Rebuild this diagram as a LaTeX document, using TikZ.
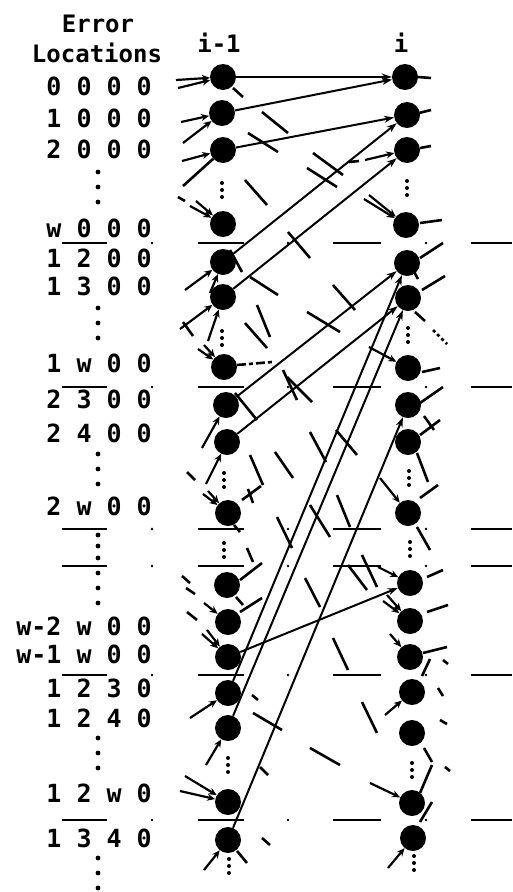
\documentclass[tikz,border=0pt]{standalone}
\usepackage{fontspec}
\setmonofont{DejaVu Sans Mono}
\usetikzlibrary{arrows.meta}
\newcommand\seprow[1]{%
  \draw[sep] (62,#1) -- (107,#1);
  \fill (152,#1) circle (1.3);
  \draw[sep] (198,#1) -- (244,#1);
  \fill (288,#1) circle (1.3);
  \draw[sep] (333,#1) -- (381,#1);
  \fill (426,#1) circle (1.3);
  \draw[sep] (471,#1) -- (512,#1);}
\newcommand\coldots[2]{%
  \fill (#1,#2) circle (2);
  \fill (#1,#2+7) circle (2);
  \fill (#1,#2+14) circle (2);}
\newcommand\labdots[2]{%
  \fill (#1,#2) circle (2.4);
  \fill (#1,#2+15) circle (2.4);
  \fill (#1,#2+30) circle (2.4);}
\begin{document}
\begin{tikzpicture}[x=1pt,y=-1pt,
  st/.style={circle,fill=black,inner sep=0pt,minimum size=26pt},
  lab/.style={font=\ttfamily\bfseries\fontsize{25}{25}\selectfont,anchor=base east,inner sep=0pt},
  hd/.style={font=\ttfamily\bfseries\fontsize{24}{24}\selectfont,anchor=base,inner sep=0pt},
  tr/.style={line width=2pt,-{Stealth[length=10pt,width=7pt]}},
  stub/.style={line width=2.2pt,-{Stealth[length=8pt,width=7pt]}},
  frag/.style={line width=2.6pt},
  sep/.style={line width=1.8pt}
]
\useasboundingbox (0,0) rectangle (512,892);
% headers
\node[hd] (h1) at (98,32) {Error};
\node[hd] (h2) at (97,62) {Locations};
\node[hd] (h3) at (219,52) {i-1};
\node[hd] (h4) at (401,52) {i};
% labels
\node[lab] (t1) at (152,95) {0 0 0 0};
\node[lab] (t2) at (152,127) {1 0 0 0};
\node[lab] (t3) at (152,158) {2 0 0 0};
\node[lab] (t4) at (152,237) {w 0 0 0};
\node[lab] (t5) at (152,267) {1 2 0 0};
\node[lab] (t6) at (152,295) {1 3 0 0};
\node[lab] (t7) at (152,372) {1 w 0 0};
\node[lab] (t8) at (152,408) {2 3 0 0};
\node[lab] (t9) at (152,442) {2 4 0 0};
\node[lab] (t10) at (152,515) {2 w 0 0};
\node[lab] (t11) at (152,635) {w-2 w 0 0};
\node[lab] (t12) at (152,663) {w-1 w 0 0};
\node[lab] (t13) at (152,697) {1 2 3 0};
\node[lab] (t14) at (152,727) {1 2 4 0};
\node[lab] (t15) at (152,802) {1 2 w 0};
\node[lab] (t16) at (152,847) {1 3 4 0};
% label dots
\labdots{98}{172}
\labdots{98}{308}
\labdots{98}{454}
\fill (98,535) circle (2.4); \fill (98,546) circle (2.4); \fill (98,558) circle (2.4);
\labdots{98}{573}
\labdots{98}{738}
\labdots{98}{858}
% separators
\seprow{243}
\seprow{387}
\seprow{529}
\seprow{566}
\seprow{675}
\seprow{820}
% left nodes
\node[st] (L0) at (223,77) {};
\node[st] (L1) at (222,113) {};
\node[st] (L2) at (223,150) {};
\node[st] (Lw) at (223,224) {};
\node[st] (L12) at (223,262) {};
\node[st] (L13) at (223,297) {};
\node[st] (L1w) at (224,367) {};
\node[st] (L23) at (226,405) {};
\node[st] (L24) at (227,442) {};
\node[st] (L2w) at (228,513) {};
\node[st] (Lx) at (227,585) {};
\node[st] (Lw2) at (228,622) {};
\node[st] (Lw1) at (228,657) {};
\node[st] (L123) at (228,693) {};
\node[st] (L124) at (228,728) {};
\node[st] (L12w) at (228,802) {};
\node[st] (L134) at (228,840) {};
% right nodes
\node[st] (R0) at (405,77) {};
\node[st] (R1) at (407,115) {};
\node[st] (R2) at (407,150) {};
\node[st] (Rw) at (406,225) {};
\node[st] (R12) at (407,263) {};
\node[st] (R13) at (408,298) {};
\node[st] (R1w) at (408,368) {};
\node[st] (R23) at (408,405) {};
\node[st] (R24) at (408,442) {};
\node[st] (R2w) at (408,513) {};
\node[st] (Rx) at (410,583) {};
\node[st] (Rw2) at (410,621) {};
\node[st] (Rw1) at (410,657) {};
\node[st] (R123) at (412,692) {};
\node[st] (R124) at (412,733) {};
\node[st] (R12w) at (412,803) {};
\node[st] (R134) at (413,838) {};
% column dots
\coldots{222}{183} \coldots{407}{181}
\coldots{222}{331} \coldots{408}{328}
\coldots{224}{473} \coldots{409}{471}
\coldots{224}{543} \coldots{410}{542}
\coldots{228}{758} \coldots{412}{763}
\coldots{229}{859} \coldots{414}{856}
% main transitions
\draw[tr] (L0) -- (R0);
\draw[tr] (L1) -- (R0);
\draw[tr] (L2) -- (R1);
\draw[tr] (L12) -- (R1);
\draw[tr] (L13) -- (R2);
\draw[tr] (L23) -- (R12);
\draw[tr] (L24) -- (R13);
\draw[tr] (L123) -- (R12);
\draw[tr] (L124) -- (R13);
\draw[tr] (L134) -- (R23);
\draw[tr] (Lw1) -- (Rx);
% left incoming stubs
\draw[stub] (176,80) -- (L0);
\draw[stub] (178,88) -- (L0);
\draw[stub] (181,122) -- (L1);
\draw[stub] (183,143) -- (L1);
\draw[stub] (182,161) -- (L2);
\draw[frag] (183,186) -- (L2);
\draw[frag] (178,197) -- (185,201);
\draw[stub] (190,206) -- (Lw);
\draw[stub] (196,201) -- (Lw);
\draw[stub] (185,290) -- (L12);
\draw[stub] (210,293) -- (L12);
\draw[frag] (230,250) -- (242,272);
\draw[stub] (180,329) -- (L13);
\draw[stub] (208,341) -- (L13);
\draw[frag] (183,322) -- (193,336);
\draw[stub] (198,349) -- (L1w);
\draw[stub] (204,345) -- (L1w);
\draw[frag,dash pattern=on 9pt off 3pt on 4pt off 3pt] (237,365) -- (272,362);
\draw[frag] (235,393) -- (257,420);
\draw[stub] (202,448) -- (L23);
\draw[stub] (206,484) -- (L24);
\draw[frag] (187,472) -- (195,480);
\draw[stub] (203,494) -- (L2w);
\draw[stub] (208,491) -- (L2w);
\draw[frag] (242,500) -- (261,486);
\draw[frag] (248,489) -- (253,503);
\draw[frag] (234,525) -- (240,532);
\draw[frag] (182,576) -- (190,583);
\draw[frag] (186,588) -- (195,594);
\draw[frag] (240,580) -- (262,563);
\draw[frag] (236,597) -- (243,605);
\draw[stub] (204,603) -- (Lw2);
\draw[frag] (187,612) -- (197,620);
\draw[frag] (240,612) -- (262,598);
\draw[stub] (202,634) -- (Lw1);
\draw[stub] (207,630) -- (Lw1);
\draw[stub] (190,718) -- (L123);
\draw[stub] (206,765) -- (L124);
\draw[stub] (185,776) -- (L12w);
\draw[stub] (180,791) -- (L12w);
\draw[stub] (204,870) -- (L134);
\draw[frag] (237,851) -- (247,863);
\draw[frag] (233,88) -- (243,97);
% right stubs
\draw[frag] (R0.east) -- (431,78);
\draw[frag] (419,113) -- (431,110);
\draw[frag] (420,148) -- (431,146);
\draw[stub] (365,160) -- (R2);
\draw[frag] (349,162) -- (359,161);
\draw[stub] (364,199) -- (Rw);
\draw[stub] (369,195) -- (Rw);
\draw[frag] (420,223) -- (442,220);
\draw[frag] (420,258) -- (443,243);
\draw[frag] (413,270) -- (418,279);
\draw[frag] (422,290) -- (445,276);
\draw[frag] (415,312) -- (425,321);
\draw[frag,dashed] (433,330) -- (447,344);
\draw[stub] (369,347) -- (R1w);
\draw[frag] (422,372) -- (440,368);
\draw[frag] (420,403) -- (443,387);
\draw[frag] (424,416) -- (434,430);
\draw[frag] (420,435) -- (440,420);
\draw[frag] (417,453) -- (428,482);
\draw[stub] (380,478) -- (R2w);
\draw[frag] (420,498) -- (438,485);
\draw[frag] (417,527) -- (430,550);
\draw[stub] (378,567) -- (Rx);
\draw[frag] (427,577) -- (443,570);
\draw[stub] (387,595) -- (Rw2);
\draw[stub] (383,601) -- (Rw2);
\draw[frag] (427,612) -- (448,605);
\draw[stub] (390,634) -- (Rw1);
\draw[frag] (423,653) -- (447,647);
\draw[frag] (443,660) -- (448,664);
\draw[stub] (385,715) -- (R123);
\draw[frag] (422,676) -- (430,659);
\draw[frag] (438,688) -- (443,696);
\draw[frag] (440,720) -- (447,724);
\draw[frag] (424,748) -- (432,762);
\draw[stub] (370,783) -- (R12w);
\draw[frag] (420,793) -- (432,765);
\draw[frag] (445,767) -- (450,771);
\draw[stub] (388,868) -- (R134);
\draw[frag] (420,822) -- (432,802);
% free fragments between columns
\draw[frag] (262,112) -- (288,133);
\draw[frag] (248,133) -- (278,152);
\draw[frag] (245,180) -- (267,205);
\draw[frag] (313,153) -- (343,175);
\draw[frag] (307,168) -- (337,187);
\draw[frag] (288,232) -- (310,258);
\draw[frag] (250,277) -- (278,295);
\draw[frag] (257,305) -- (270,337);
\draw[frag] (245,323) -- (267,348);
\draw[frag] (333,285) -- (355,310);
\draw[frag] (307,312) -- (340,332);
\draw[frag] (283,370) -- (297,400);
\draw[frag] (287,377) -- (312,402);
\draw[frag] (310,432) -- (326,462);
\draw[frag] (336,430) -- (357,455);
\draw[frag] (275,452) -- (293,478);
\draw[frag] (250,455) -- (263,485);
\draw[frag] (277,517) -- (292,548);
\draw[frag] (310,505) -- (330,537);
\draw[frag] (337,495) -- (350,527);
\draw[frag] (247,548) -- (253,562);
\draw[frag] (305,578) -- (320,607);
\draw[frag] (348,565) -- (367,590);
\draw[frag] (362,555) -- (377,587);
\draw[frag] (333,638) -- (348,670);
\draw[frag] (362,702) -- (377,733);
\draw[frag] (310,748) -- (340,765);
\draw[frag] (253,713) -- (282,730);
\draw[frag] (252,695) -- (258,700);
\draw[frag] (260,767) -- (268,775);
\draw[frag] (262,838) -- (270,845);
\end{tikzpicture}
\end{document}
